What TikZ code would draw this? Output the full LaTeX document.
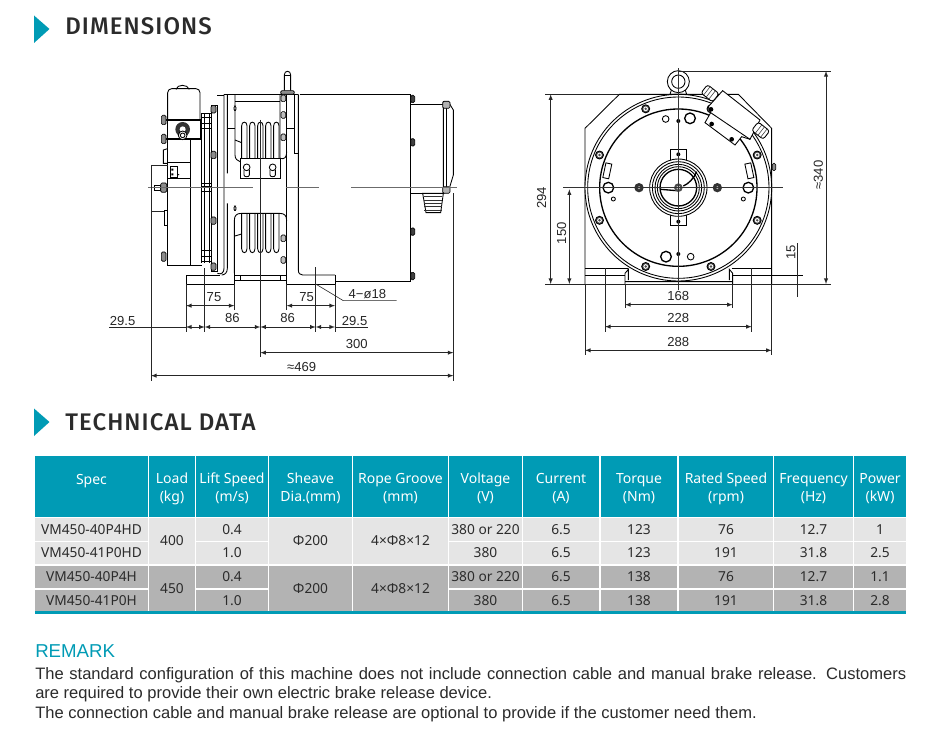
\documentclass[tikz,border=0pt]{standalone}
\usepackage{fontspec}
\setmainfont{Liberation Sans}
\newfontfamily\tablefont{Noto Sans}
\newfontfamily\headfont[LetterSpace=4.5]{Fira Sans Medium}
\usetikzlibrary{positioning,arrows,shapes.geometric}
\definecolor{headteal}{HTML}{009BB5}
\definecolor{rowlight}{HTML}{E5E5E5}
\definecolor{rowdark}{HTML}{B3B3B3}
\definecolor{inktext}{HTML}{2B2B2B}
\tikzset{
  part/.style     = {draw=black, line width=.65pt},
  fine/.style     = {draw=black!80, line width=.4pt},
  heavy/.style    = {draw=black, line width=1pt},
  bolt/.style     = {draw=black, fill=black!45, line width=.5pt, rounded corners=1pt},
  centre/.style   = {draw=black!58, line width=1.1pt},
  axis/.style     = {draw=black!80, line width=.6pt},
  ext/.style      = {draw=black!85, line width=.45pt},
  dim/.style      = {ext, <->},
  dimtext/.style  = {font=\fontsize{9.8}{11}\selectfont, text=black!85, inner sep=0pt},
  heading/.style  = {font=\headfont\fontsize{18}{20}\selectfont, text=inktext, inner sep=0pt, anchor=west},
  wd/.style       = {minimum width=#1*.75pt},
  ht/.style       = {minimum height=#1*.75pt},
  cell/.style     = {inner sep=0pt, outer sep=0pt, align=center,
                     font=\tablefont\fontsize{10.3}{13.5}\selectfont, text=inktext},
  hcell/.style    = {cell, fill=headteal, text=white, font=\tablefont\fontsize{10.5}{13.5}\selectfont},
}
\begin{document}
\begin{tikzpicture}[x=.75pt, y=-.75pt, >=latex]
\useasboundingbox (0,0) rectangle (931,752);
\fill[white] (0,0) rectangle (931,752);

% headings
\fill[headteal] (34,15.5) -- (49.5,29) -- (34,43) -- cycle;
\node[heading] (dimhead) at (65,26) {DIMENSIONS};
\fill[headteal] (34,408.5) -- (49.5,422) -- (34,436) -- cycle;
\node[heading] (datahead) at (65,422) {TECHNICAL DATA};

% side view, drawn in thirds of a pixel
\begin{scope}[shift={(100,60)}, x=.25pt, y=-.25pt]
% brake box
\draw[part] (228,88) .. controls (232,72) and (262,72) .. (268,88);
\draw[part, rounded corners=3pt] (203,180) -- (203,86) -- (300,86) -- (300,180);
\draw[heavy] (190,180) -- (305,180);
\draw[heavy] (190,237) -- (305,237);
\draw[part] (203,180) -- (203,237) (300,180) -- (300,237);
\fill[black!80] (248,208) circle [radius=22];
\fill[white] (248,208) circle [radius=9];
\draw[part, fill=white] (248,226) circle [radius=13];
\draw[part] (248,226) circle [radius=7];
\foreach \y in {180,237,590}
  \draw[bolt] (184,\y-14) rectangle (198,\y+14);
% lower box
\draw[part] (203,237) -- (203,615) -- (305,615);
\draw[part] (272,237) -- (272,615);
\draw[part] (203,307) -- (272,307) (203,355) -- (272,355);
\draw[part] (210,318) rectangle (232,352);
\fill (214,326) rectangle (220,332) (214,340) rectangle (220,346);
\fill (236,344) circle [radius=2];
\draw[part] (203,266) -- (190,270) -- (190,310) -- (203,310);
\draw[part] (203,450) -- (192,450) -- (192,497) -- (203,497);
\draw[part] (162,376) rectangle (182,391);
\draw[bolt] (182,369) rectangle (200,397);
% disc column
\foreach \x in {305,312,327,333}
  \draw[part] (\x,160) -- (\x,610);
\foreach \y in {160,172,190,205,370,380,395,570,590,605}
  \draw[part] (305,\y) -- (333,\y);
\draw[part] (333,135) rectangle (352,635);
\foreach \y in {148,285,482,620}
  \draw[bolt] (333,\y-11) rectangle (348,\y+11);
% bracket plates
\draw[part] (352,107) -- (372,107);
\draw[part] (372,103) -- (372,625) .. controls (372,637) and (365,645) .. (352,640);
\draw[part] (382,105) -- (382,340) (382,430) -- (382,625) .. controls (382,637) and (375,645) .. (365,645);
\draw[part] (382,205) -- (405,205);
\draw[part] (372,103) -- (595,103);
\draw[part] (405,125) -- (540,125);
\draw[part] (405,105) -- (405,285) .. controls (405,296) and (412,303) .. (420,305);
\draw[part] (540,105) -- (540,295) .. controls (555,300) and (560,290) .. (560,275);
\draw[part] (560,105) -- (560,280);
\draw[part] (582,105) -- (582,280) -- (595,280);
\draw[part] (560,205) -- (582,205);
\draw[part] (405,240) -- (425,248) (405,528) -- (425,522);
% upper sheave
\foreach \x in {425,449,473,497,521}
  \draw[part] (\x,295) -- (\x,197) .. controls (\x,183) and (\x+16,183) .. (\x+16,197) -- (\x+16,295);
\draw[part] (420,295) rectangle (540,355);
\foreach \x in {440,518} {
  \draw[part] (\x-8,330) -- (\x-8,345) .. controls (\x-8,352) and (\x+8,352) .. (\x+8,345) -- (\x+8,330);
  \draw[part, fill=white] (\x,322) circle [radius=10];
}
% lower sheave
\draw[part] (403,640) -- (403,482) .. controls (403,466) and (410,460) .. (425,460)
  -- (538,460) .. controls (553,460) and (560,466) .. (560,482);
\foreach \x in {425,449,473,497,521}
  \draw[part] (\x,460) -- (\x,566) .. controls (\x,582) and (\x+16,582) .. (\x+16,566) -- (\x+16,460);
\draw[part] (403,645) -- (560,645) (403,662) -- (560,662);
\draw[part] (422,645) -- (422,662) (540,645) -- (540,662);
% lifting pin
\draw[part] (553,92) -- (553,45) .. controls (553,30) and (572,30) .. (572,45) -- (572,92);
\draw[part] (553,45) -- (572,45);
\draw[bolt] (542,92) rectangle (583,103);
\foreach \y in {115,165,232,535,600}
  \draw[bolt, fill=black!25] (543,\y-10) rectangle (557,\y+10);
\foreach \y in {145,445}
  \draw[bolt, fill=black!25] (402,\y-7) rectangle (408,\y+7);
% feet and motor body
\draw[part] (258,672) -- (258,645) -- (360,645);
\draw[part] (258,672) -- (403,672) -- (403,640);
\draw[part] (560,105) -- (560,672) -- (705,672) -- (705,645);
\draw[part] (595,103) -- (595,630) .. controls (595,640) and (600,645) .. (608,645) -- (705,645);
\draw[part] (599,103) -- (932,103) -- (932,665) -- (705,665);
% terminal cover and gland
\draw[part] (932,133) -- (1030,133) (932,400) -- (1030,400);
\draw[part] (1030,125) -- (1045,125) -- (1060,150) -- (1060,345) -- (1045,395) -- (1030,400) -- cycle;
\draw[part] (1040,130) -- (1040,385);
\foreach \y in {117,247,515,648}
  \draw[bolt, fill=black!75] (932,\y-11) rectangle (944,\y+11);
\draw[bolt, fill=black!30] (1028,124) rectangle (1050,145);
\draw[bolt, fill=black!30] (1028,380) rectangle (1050,400);
\draw[part] (968,400) -- (1030,400) -- (1022,458) -- (978,458) -- cycle;
\foreach \y in {410,420,430,440,450}
  \draw[fine] (972,\y) -- (1026,\y);
% centre lines
\draw[centre] (145,383) -- (458,383) (557,383) -- (657,383) (753,383) -- (1070,383);
% dimensions
\draw[ext] (153,315) -- (203,315) (153,455) -- (192,455);
\draw[ext] (153,315) -- (153,962);
\draw[ext] (1060,400) -- (1060,962);
\draw[ext] (481,180) -- (481,890);
\draw[ext] (258,672) -- (258,815) (314,625) -- (314,815) (403,672) -- (403,750);
\draw[ext] (560,672) -- (560,750) (647,622) -- (647,815) (705,672) -- (705,815);
\draw[dim] (258,737) -- (403,737);
\draw[dim] (560,737) -- (705,737);
\draw[ext] (27,801) -- (258,801) (705,801) -- (805,801);
\draw[dim] (258,801) -- (314,801);
\draw[dim] (314,801) -- (481,801);
\draw[dim] (481,801) -- (647,801);
\draw[dim] (647,801) -- (705,801);
\draw[dim] (481,878) -- (1060,878);
\draw[dim] (153,947) -- (1060,947);
\draw[ext] (647,672) -- (730,722) -- (890,722);
\node[dimtext] (d75a) at (342,712) {75};
\node[dimtext] (d75b) at (620,712) {75};
\node[dimtext] (d86a) at (397,775) {86};
\node[dimtext] (d86b) at (563,775) {86};
\node[dimtext] (d295a) at (68,782) {29.5};
\node[dimtext] (d295b) at (764,782) {29.5};
\node[dimtext] (d300) at (770,852) {300};
\node[dimtext] (d469) at (605,922) {≈469};
\node[dimtext] (dhole) at (802,702) {4−ø18};
\end{scope}

% front view, drawn in thirds of a pixel
\begin{scope}[shift={(520,60)}, x=.25pt, y=-.25pt]
% housing and feet
\draw[part] (195,672) -- (195,205) -- (298,103) -- (655,103) -- (755,205) -- (755,672);
\draw[part] (195,625) -- (325,625) (635,625) -- (755,625);
\draw[part] (195,645) -- (315,645) (638,645) -- (850,645);
\draw[part] (315,672) -- (315,640) -- (325,628) -- (325,660) (315,665) -- (638,665);
\draw[part] (638,672) -- (638,640) -- (628,628) -- (628,660);
% motor face
\draw[part, fill=white] (475,383) circle [radius=280];
\draw[part] (475,383) circle [radius=272];
\draw[heavy] (475,383) circle [radius=236];
\foreach \a in {22.5,67.5,112.5,157.5,202.5,247.5,292.5,337.5} {
  \draw[part, fill=black!70] (475,383) ++(\a:256) circle [radius=12];
  \fill[white] (475,383) ++(\a:256) circle [radius=7];
  \fill[black!70] (475,383) ++(\a:256) circle [radius=4];
}
% holes on the face
\draw[heavy] (510,175) circle [radius=16];
\draw[part] (437,177) circle [radius=10];
\draw[heavy] (438,590) circle [radius=16];
\draw[part] (512,590) circle [radius=10];
\draw[heavy, fill=white] (265,383) circle [radius=16];
\draw[heavy, fill=white] (685,383) circle [radius=16];
\draw[part] (280,417) circle [radius=6];
\draw[part] (670,417) circle [radius=6];
\foreach \x/\y in {475/183,475/283,475/485,475/582}
  \fill (\x,\y) circle [radius=6];
\foreach \x in {357,592} {
  \fill[black!80] (\x,383) circle [radius=14];
  \fill[black!30] (\x,383) circle [radius=5];
}
\draw[part, rotate around={-12:(262,332)}] (253,310) rectangle (271,355);
\draw[part, rotate around={12:(688,332)}] (679,310) rectangle (697,355);
% hub
\draw[part] (450,310) -- (450,268) -- (500,268) -- (500,310);
\draw[part] (450,450) -- (450,497) -- (500,497) -- (500,450);
\foreach \r in {86,78,70,63}
  \draw[part, fill=white] (475,383) circle [radius=\r];
\draw[heavy, fill=white] (475,383) circle [radius=55];
\draw[heavy] (422,388) -- (470,392) (490,378) .. controls (505,372) and (522,355) .. (530,335);
\fill[black!70] (475,383) circle [radius=13];
\fill[black!25] (475,383) circle [radius=6];
% eye bolt
\draw[part] (450,103) -- (455,88) -- (495,88) -- (500,103) -- cycle;
\draw[part, fill=white] (475,65) circle [radius=33];
\draw[part] (475,65) circle [radius=20];
% terminal box on the rim
\draw[part, fill=white] (608,92) -- (720,180) -- (690,238) -- (665,230) -- (645,255)
  -- (555,188) -- (572,158) -- (565,140) -- cycle;
\draw[part] (572,158) -- (690,238);
\foreach \x/\y in {573/148,575/192,635/238}
  \fill (\x,\y) circle [radius=7];
\begin{scope}[shift={(570,100)}, rotate=-38]
  \draw[part, fill=white, rounded corners=2pt] (-22,-16) rectangle (22,16);
  \foreach \x in {-12,-2,8}
    \draw[fine] (\x,-16) -- (\x,16);
\end{scope}
\begin{scope}[shift={(722,212)}, rotate=-38]
  \draw[part, fill=white, rounded corners=2pt] (-22,-16) rectangle (22,16);
  \foreach \x in {-8,2,12}
    \draw[fine] (\x,-16) -- (\x,16);
\end{scope}
\draw[bolt] (757,310) rectangle (767,332);
% centre lines
\draw[axis] (130,383) -- (790,383);
\draw[axis] (475,25) -- (475,690);
% dimensions
\draw[ext] (75,103) -- (298,103);
\draw[ext] (75,672) -- (932,672);
\draw[ext] (475,33) -- (932,33);
\draw[dim] (92,103) -- (92,672);
\draw[dim] (148,388) -- (148,672);
\draw[dim] (918,33) -- (918,672);
\draw[ext] (833,550) -- (833,712);
\draw[ext] (315,672) -- (315,745) (638,672) -- (638,745);
\draw[ext] (255,625) -- (255,815) (695,625) -- (695,815);
\draw[ext] (195,672) -- (195,885) (755,672) -- (755,885);
\draw[dim] (315,734) -- (638,734);
\draw[dim] (255,800) -- (695,800);
\draw[dim] (195,871) -- (755,871);
\node[dimtext, rotate=90] (d294) at (65,413) {294};
\node[dimtext, rotate=90] (d150) at (125,520) {150};
\node[dimtext, rotate=90] (d340) at (895,345) {≈340};
\node[dimtext, rotate=90] (d15) at (813,578) {15};
\node[dimtext] (d168) at (475,708) {168};
\node[dimtext] (d228) at (475,775) {228};
\node[dimtext] (d288) at (475,845) {288};
\end{scope}

% table head
\foreach \n/\cx/\w/\t in {1/91.5/113/{Spec\\\mbox{}},2/172/46/{Load\\(kg)},3/232/72/{Lift Speed\\(m/s)},
    4/310.5/83/{Sheave\\Dia.(mm)},5/400.5/95/{Rope Groove\\(mm)},6/485.5/73/{Voltage\\(V)},
    7/561/76/{Current\\(A)},8/639/76/{Torque\\(Nm)},9/726/94/{Rated Speed\\(rpm)},
    10/813.5/79/{Frequency\\(Hz)},11/880/52/{Power\\(kW)}} {
  \node[hcell, wd=\w, ht=61] (h\n) at (\cx,486.5) {};
  \node[hcell, fill=none] (t\n) at (\cx,488.5) {\t};
}

% table rows
\foreach \r/\y/\h/\col/\a/\b/\c/\d/\e/\f/\g/\k in {
    1/529.5/23/rowlight/VM450-40P4HD/0.4/380 or 220/6.5/123/76/12.7/1,
    2/553/22/rowlight/VM450-41P0HD/1.0/380/6.5/123/191/31.8/2.5,
    3/577/22/rowdark/VM450-40P4H/0.4/380 or 220/6.5/138/76/12.7/1.1,
    4/600.5/21/rowdark/VM450-41P0H/1.0/380/6.5/138/191/31.8/2.8} {
  \node[cell, fill=\col, wd=113, ht=\h] (r\r c1) at (91.5,\y) {\a};
  \node[cell, fill=\col, wd=72, ht=\h] (r\r c3) at (232,\y) {\b};
  \node[cell, fill=\col, wd=73, ht=\h] (r\r c6) at (485.5,\y) {\c};
  \node[cell, fill=\col, wd=76, ht=\h] (r\r c7) at (561,\y) {\d};
  \node[cell, fill=\col, wd=76, ht=\h] (r\r c8) at (639,\y) {\e};
  \node[cell, fill=\col, wd=94, ht=\h] (r\r c9) at (726,\y) {\f};
  \node[cell, fill=\col, wd=79, ht=\h] (r\r c10) at (813.5,\y) {\g};
  \node[cell, fill=\col, wd=52, ht=\h] (r\r c11) at (880,\y) {\k};
}
% merged cells
\foreach \r/\y/\h/\col/\a in {1/541/46/rowlight/400,3/588.5/45/rowdark/450} {
  \node[cell, fill=\col, wd=46, ht=\h] (r\r c2) at (172,\y) {\a};
  \node[cell, fill=\col, wd=83, ht=\h] (r\r c4) at (310.5,\y) {Φ200};
  \node[cell, fill=\col, wd=95, ht=\h] (r\r c5) at (400.5,\y) {4×Φ8×12};
}
\fill[headteal] (35,611) rectangle (906,614);

% remark
\node[anchor=west, inner sep=0pt, text=headteal, font=\fontsize{14}{16}\selectfont] (remark) at (35,651) {REMARK};
\node[anchor=north west, inner sep=0pt, text width=871*.75pt, align=justify, text=inktext,
      font=\fontsize{12.4}{14.7}\selectfont] (remarktext) at (35,667)
  {The standard configuration of this machine does not include connection cable and manual brake release. Customers\linebreak
   are required to provide their own electric brake release device.\\
   The connection cable and manual brake release are optional to provide if the customer need them.};
\end{tikzpicture}
\end{document}
